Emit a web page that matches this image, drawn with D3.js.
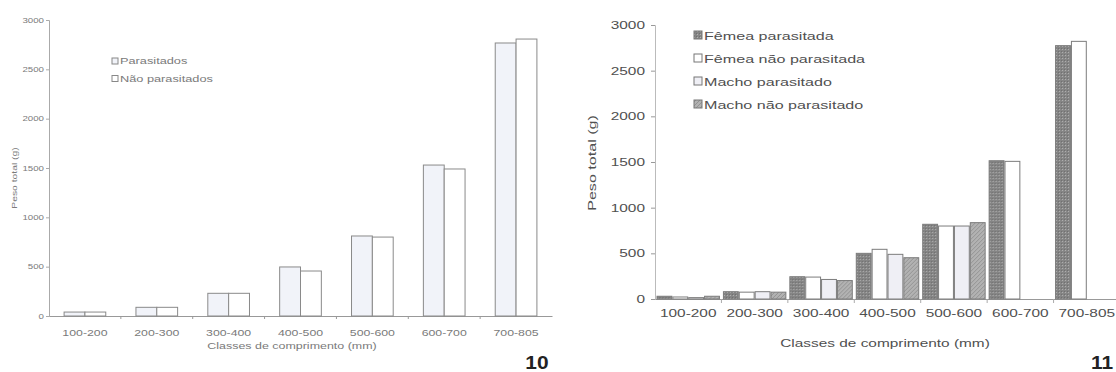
<!DOCTYPE html>
<html>
<head>
<meta charset="utf-8">
<script src="https://cdn.jsdelivr.net/npm/d3@7"></script>
<style>
  html, body { margin: 0; padding: 0; background: #fff; }
  svg { display: block; font-family: "Liberation Sans", Arial, sans-serif; }
</style>
</head>
<body>
<svg id="fig" width="1116" height="372"></svg>
<script>
// Length classes shared by both panels
const categories = ["100-200", "200-300", "300-400", "400-500", "500-600", "600-700", "700-805"];
const yTicks = [0, 500, 1000, 1500, 2000, 2500, 3000];

// Panel 10: total weight, parasitized vs. non-parasitized
const parasitados = [40, 88, 230, 497, 811, 1530, 2767];
const naoParasitados = [40, 88, 230, 456, 800, 1490, 2807];

// Panel 11: total weight by sex and parasitism
const femeaParasitada = [30, 80, 244, 500, 818, 1514, 2774];
const femeaNaoParasitada = [22, 75, 240, 544, 799, 1507, 2821];
const machoParasitado = [15, 80, 214, 489, 799, 0, 0];
const machoNaoParasitado = [30, 75, 202, 452, 836, 0, 0];

const svg = d3.select("#fig");
const SX = 1.4; // wide lettering
const fmt = d3.format("d");

// patterns for the hatched fills
const defs = svg.append("defs");
const pCross = defs.append("pattern").attr("id", "pCross")
  .attr("patternUnits", "userSpaceOnUse").attr("width", 3).attr("height", 3);
pCross.append("rect").attr("width", 3).attr("height", 3).attr("fill", "#858585");
pCross.append("rect").attr("x", 1).attr("y", 1).attr("width", 1).attr("height", 1).attr("fill", "#b0b0b0");
pCross.append("rect").attr("x", 0).attr("y", 0).attr("width", 1).attr("height", 1).attr("fill", "#6e6e6e");

const pDiag = defs.append("pattern").attr("id", "pDiag")
  .attr("patternUnits", "userSpaceOnUse").attr("width", 4).attr("height", 4);
pDiag.append("rect").attr("width", 4).attr("height", 4).attr("fill", "#b2b2b2");
pDiag.append("path").attr("d", "M0,4 L4,0 M-1,1 L1,-1 M3,5 L5,3")
  .attr("stroke", "#939393").attr("stroke-width", 1);

function stretchText(sel, sx) {
  sel.each(function () {
    const t = d3.select(this);
    const x = +t.attr("x") || 0;
    t.attr("x", x / sx).attr("transform", `scale(${sx},1)`);
  });
}

function label(g, text, x, y, opts) {
  const o = Object.assign({ size: 11, anchor: "middle", fill: "#555", rotate: 0, sx: SX, weight: "normal" }, opts);
  g.append("text")
    .attr("transform", `translate(${x},${y}) rotate(${o.rotate}) scale(${o.sx},1)`)
    .attr("text-anchor", o.anchor)
    .attr("font-size", o.size)
    .attr("font-weight", o.weight)
    .attr("fill", o.fill)
    .text(text);
}

// ---------- Panel 10 ----------
{
  const g = svg.append("g");
  const x = d3.scaleBand().domain(categories).range([49, 552]).paddingInner(0.42).paddingOuter(0.21);
  const y = d3.scaleLinear().domain([0, 3000]).range([316, 20]);
  const sub = d3.scaleBand().domain(["p", "n"]).range([0, x.bandwidth()]);
  const textCol = "#7a7a7a";

  const yAxis = g.append("g").attr("transform", "translate(49,0)")
    .call(d3.axisLeft(y).tickValues(yTicks).tickFormat(fmt).tickSize(3).tickPadding(2));
  yAxis.select(".domain").attr("stroke", "#aaa");
  yAxis.selectAll(".tick line").attr("stroke", "#aaa");
  yAxis.selectAll("text").attr("font-size", 6.7).attr("fill", textCol)
    .attr("font-family", "Liberation Sans, Arial, sans-serif");
  stretchText(yAxis.selectAll("text"), 1.45);

  const xAxis = g.append("g").attr("transform", "translate(0,316)")
    .call(d3.axisBottom(x).tickSize(0).tickPadding(14).tickSizeOuter(0));
  xAxis.select(".domain").attr("stroke", "#999");
  xAxis.selectAll("text").attr("font-size", 8.8).attr("fill", textCol)
    .attr("font-family", "Liberation Sans, Arial, sans-serif");
  stretchText(xAxis.selectAll("text"), SX);
  // boundary ticks between classes
  g.selectAll(".bnd").data(categories.slice(1)).enter().append("line")
    .attr("x1", d => x(d) - (x.step() - x.bandwidth()) / 2)
    .attr("x2", d => x(d) - (x.step() - x.bandwidth()) / 2)
    .attr("y1", 316).attr("y2", 319).attr("stroke", "#999");

  const rows = categories.map((c, i) => ({ c, p: parasitados[i], n: naoParasitados[i] }));
  const grp = g.selectAll(".cls").data(rows).enter().append("g")
    .attr("transform", d => `translate(${x(d.c)},0)`);
  grp.append("rect").attr("x", sub("p")).attr("width", sub.bandwidth())
    .attr("y", d => y(d.p)).attr("height", d => y(0) - y(d.p))
    .attr("fill", "#f1f3f9").attr("stroke", "#8a8a8a").attr("stroke-width", 1);
  grp.append("rect").attr("x", sub("n")).attr("width", sub.bandwidth())
    .attr("y", d => y(d.n)).attr("height", d => y(0) - y(d.n))
    .attr("fill", "#fff").attr("stroke", "#8a8a8a").attr("stroke-width", 1);

  // legend
  const leg = [["Parasitados", "#f1f3f9"], ["Não parasitados", "#fff"]];
  leg.forEach((d, i) => {
    const yy = 61 + i * 17.5;
    g.append("rect").attr("x", 112).attr("y", yy - 3).attr("width", 6).attr("height", 6)
      .attr("fill", d[1]).attr("stroke", "#888");
    label(g, d[0], 120, yy + 3, { size: 8.8, anchor: "start", fill: textCol, sx: 1.45 });
  });

  label(g, "Peso total (g)", 17, 178, { size: 7.2, rotate: -90, fill: textCol, sx: 1.44 });
  label(g, "Classes de comprimento (mm)", 292, 349, { size: 8.9, fill: textCol });
  label(g, "10", 537, 369, { size: 19, weight: "bold", fill: "#222", sx: 1.1 });
}

// ---------- Panel 11 ----------
{
  const g = svg.append("g");
  const x = d3.scaleBand().domain(categories).range([655, 1120]).paddingInner(0.045).paddingOuter(0.0225);
  const y = d3.scaleLinear().domain([0, 3000]).range([299, 25]);
  const keys = ["fp", "fnp", "mp", "mnp"];
  const sub = d3.scaleBand().domain(keys).range([0, x.bandwidth()]);
  const fills = { fp: "url(#pCross)", fnp: "#ffffff", mp: "#efeff5", mnp: "url(#pDiag)" };
  const names = { fp: "Fêmea parasitada", fnp: "Fêmea não parasitada", mp: "Macho parasitado", mnp: "Macho não parasitado" };
  const textCol = "#505050";

  const yAxis = g.append("g").attr("transform", "translate(655,0)")
    .call(d3.axisLeft(y).tickValues(yTicks).tickFormat(fmt).tickSize(4).tickPadding(6));
  yAxis.select(".domain").attr("stroke", "#bbb");
  yAxis.selectAll(".tick line").attr("stroke", "#999");
  yAxis.selectAll("text").attr("font-size", 11).attr("fill", textCol)
    .attr("font-family", "Liberation Sans, Arial, sans-serif");
  stretchText(yAxis.selectAll("text"), SX);

  const xAxis = g.append("g").attr("transform", "translate(0,299)")
    .call(d3.axisBottom(x).tickSize(0).tickPadding(10).tickSizeOuter(0));
  xAxis.select(".domain").attr("stroke", "#999");
  xAxis.selectAll("text").attr("font-size", 11).attr("fill", textCol)
    .attr("font-family", "Liberation Sans, Arial, sans-serif");
  stretchText(xAxis.selectAll("text"), SX);
  g.selectAll(".bnd").data(categories.slice(1)).enter().append("line")
    .attr("x1", d => x(d) - (x.step() - x.bandwidth()) / 2)
    .attr("x2", d => x(d) - (x.step() - x.bandwidth()) / 2)
    .attr("y1", 299).attr("y2", 303).attr("stroke", "#aaa");

  const rows = categories.map((c, i) => ({
    c, fp: femeaParasitada[i], fnp: femeaNaoParasitada[i], mp: machoParasitado[i], mnp: machoNaoParasitado[i]
  }));
  const grp = g.selectAll(".cls").data(rows).enter().append("g")
    .attr("transform", d => `translate(${x(d.c)},0)`);
  grp.selectAll("rect").data(d => keys.map(k => ({ k, v: d[k] })).filter(e => e.v > 0))
    .enter().append("rect")
    .attr("x", e => sub(e.k) + 0.5).attr("width", sub.bandwidth() - 1)
    .attr("y", e => y(e.v)).attr("height", e => y(0) - y(e.v))
    .attr("fill", e => fills[e.k]).attr("stroke", "#7c7c7c").attr("stroke-width", 1);

  keys.forEach((k, i) => {
    const yy = 35 + i * 23;
    g.append("rect").attr("x", 694).attr("y", yy - 4).attr("width", 8).attr("height", 8)
      .attr("fill", fills[k]).attr("stroke", "#777");
    label(g, names[k], 704, yy + 4.5, { size: 11.5, anchor: "start", fill: textCol });
  });

  label(g, "Peso total (g)", 596, 163, { size: 11.5, rotate: -90, fill: textCol });
  label(g, "Classes de comprimento (mm)", 885, 347, { size: 11, fill: textCol });
  label(g, "11", 1091, 369, { size: 19, weight: "bold", fill: "#222", sx: 1.1, anchor: "start" });
}
</script>
</body>
</html>
